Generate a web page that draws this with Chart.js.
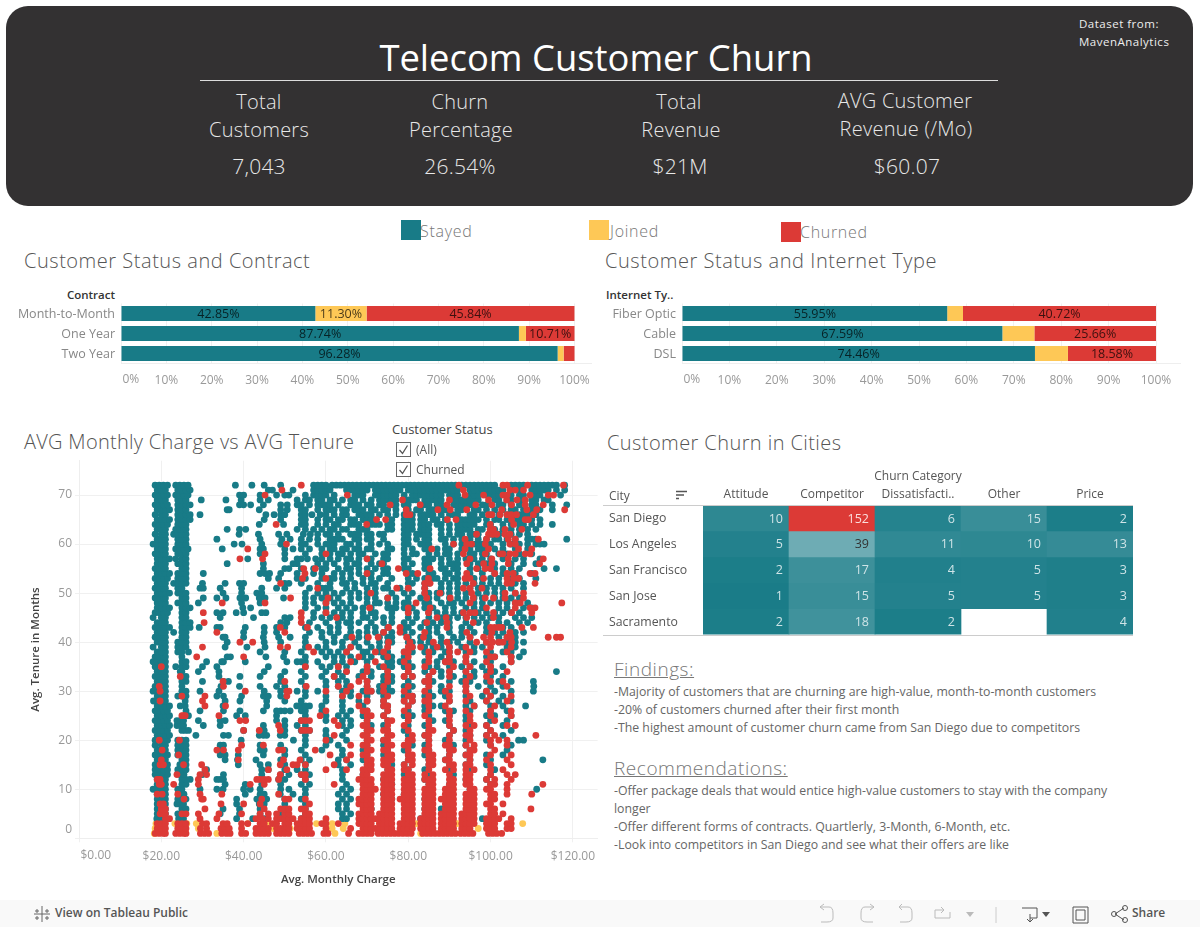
<!DOCTYPE html>
<html><head><meta charset="utf-8">
<script src="https://cdn.jsdelivr.net/npm/chart.js@4"></script>
<style>
html,body{margin:0;padding:0;background:#fff}
body{width:1200px;height:927px;position:relative;overflow:hidden;font-family:"Open Sans",sans-serif}
.t{position:absolute;white-space:pre;line-height:1}
canvas{position:absolute}
.box{position:absolute;width:13px;height:13px;border:1px solid #666;background:#fff}
.k{font-size:20px;color:#e8e8e8;font-weight:300;letter-spacing:.25px;text-align:center;width:200px}
.s{font-size:20px;color:#555;font-weight:300}
.p{font-size:12.3px;color:#666;left:614px}
.h{font-size:19px;color:#777;font-weight:300;text-decoration:underline;left:614px;letter-spacing:.55px}
.l{font-size:16px;color:#777;font-weight:300;letter-spacing:.7px}
</style></head><body>
<div style="position:absolute;left:6px;top:6px;width:1187px;height:200px;background:#333132;border-radius:22px"></div>
<div class="t" style="left:195px;width:802px;text-align:center;top:39px;font-size:36.4px;color:#fff">Telecom Customer Churn</div>
<div style="position:absolute;left:200px;top:80px;width:798px;height:1px;background:#ddd"></div>
<div class="t" style="left:1079px;top:18px;font-size:11.5px;color:#eee;letter-spacing:.5px">Dataset from:</div>
<div class="t" style="left:1079px;top:36px;font-size:11.5px;color:#eee;letter-spacing:.5px">MavenAnalytics</div>
<div class="t k" style="left:159px;top:92px">Total</div>
<div class="t k" style="left:159px;top:120px">Customers</div>
<div class="t k" style="left:159px;top:156px;font-size:21px">7,043</div>
<div class="t k" style="left:360px;top:92px">Churn</div>
<div class="t k" style="left:361px;top:120px">Percentage</div>
<div class="t k" style="left:360px;top:156px;font-size:21px">26.54%</div>
<div class="t k" style="left:579px;top:92px">Total</div>
<div class="t k" style="left:581px;top:120px">Revenue</div>
<div class="t k" style="left:580px;top:156px;font-size:21px">$21M</div>
<div class="t k" style="left:805px;top:91px">AVG Customer</div>
<div class="t k" style="left:806px;top:119px">Revenue (/Mo)</div>
<div class="t k" style="left:807px;top:156px;font-size:21px">$60.07</div>

<div style="position:absolute;left:401px;top:220px;width:20px;height:20px;background:#187b87"></div>
<div class="t l" style="left:420px;top:223px">Stayed</div>
<div style="position:absolute;left:589px;top:220px;width:20px;height:20px;background:#fec856"></div>
<div class="t l" style="left:610px;top:223px">Joined</div>
<div style="position:absolute;left:781px;top:222px;width:20px;height:20px;background:#dc3a36"></div>
<div class="t l" style="left:800px;top:224px">Churned</div>

<div class="t s" style="left:24px;top:251px;letter-spacing:.53px">Customer Status and Contract</div>
<div class="t s" style="left:605px;top:251px;letter-spacing:.55px">Customer Status and Internet Type</div>
<div class="t s" style="left:24px;top:432px;letter-spacing:.28px">AVG Monthly Charge vs AVG Tenure</div>
<div class="t s" style="left:607px;top:433px;letter-spacing:.42px">Customer Churn in Cities</div>
<div class="t" style="left:0;width:115px;text-align:right;top:289px;font-size:11.5px;color:#333;font-weight:600">Contract</div>
<div class="t" style="left:606px;top:289px;font-size:11.5px;color:#333;font-weight:600">Internet Ty..</div>

<canvas id="barContract" style="left:0;top:290px" width="600" height="105"></canvas>
<canvas id="barInternet" style="left:600px;top:290px" width="600" height="105"></canvas>
<canvas id="scatter" style="left:20px;top:450px" width="590" height="450"></canvas>
<canvas id="heat" style="left:600px;top:465px" width="540" height="180"></canvas>

<div class="t" style="left:392px;top:423px;font-size:13px;color:#444">Customer Status</div>
<div class="box" style="left:396px;top:442px"></div>
<svg style="position:absolute;left:396px;top:442px" width="15" height="15"><path d="M3.5 8 L6.5 11.5 L11.5 3.5" fill="none" stroke="#555" stroke-width="1.3"/></svg>
<div class="t" style="left:416px;top:444px;font-size:12px;color:#555">(All)</div>
<div class="box" style="left:396px;top:462px"></div>
<svg style="position:absolute;left:396px;top:462px" width="15" height="15"><path d="M3.5 8 L6.5 11.5 L11.5 3.5" fill="none" stroke="#555" stroke-width="1.3"/></svg>
<div class="t" style="left:416px;top:464px;font-size:12px;color:#555">Churned</div>

<div class="t" style="left:609px;top:490px;font-size:12px;color:#555">City</div>
<svg style="position:absolute;left:676px;top:490px" width="12" height="11"><path d="M0 1.5H11M0 5H8M0 8.5H3" stroke="#555" stroke-width="1.5"/></svg>

<div class="t h" style="top:660px">Findings:</div>
<div class="t p" style="top:686px">-Majority of customers that are churning are high-value, month-to-month customers</div>
<div class="t p" style="top:704px">-20% of customers churned after their first month</div>
<div class="t p" style="top:722px">-The highest amount of customer churn came from San Diego due to competitors</div>
<div class="t h" style="top:759px">Recommendations:</div>
<div class="t p" style="top:785px">-Offer package deals that would entice high-value customers to stay with the company</div>
<div class="t p" style="top:803px">longer</div>
<div class="t p" style="top:821px">-Offer different forms of contracts. Quartlerly, 3-Month, 6-Month, etc.</div>
<div class="t p" style="top:839px">-Look into competitors in San Diego and see what their offers are like</div>

<div style="position:absolute;left:0;top:900px;width:1200px;height:27px;background:#f9f9f9"></div>
<svg style="position:absolute;left:33px;top:905px" width="18" height="18" stroke="#666" fill="none"><path d="M9 1V17M1 9H17M4 4V8M2 6H6M14 4V8M12 6H16M4 11V15M2 13H6M14 11V15M12 13H16"/></svg>
<div class="t" style="left:55px;top:907px;font-size:12px;color:#555;font-weight:600">View on Tableau Public</div>
<svg style="position:absolute;left:815px;top:903px" width="360" height="22" stroke="#bbb" fill="none">
<path d="M5 4H14Q18 4 18 10V15Q18 19 12 19H6M5 4L9 1M5 4L9 7"/>
<path d="M59 4H50Q46 4 46 10V15Q46 19 52 19H58M59 4L55 1M59 4L55 7"/>
<path d="M84 4H93Q97 4 97 10V15Q97 19 91 19H85M84 4L87 1M84 4L87 7"/>
<path d="M129 7H120V15H135V9M129 7L126 4M129 7L126 10"/>
<path d="M181 4V20" stroke="#ccc"/>
<path d="M207 5H222V15H215M215 11V19L212 16M215 19L218 16" stroke="#555"/>
<path d="M258 4H273V20H258ZM261 7H270V17H261Z" stroke="#555"/>
<path d="M300 11L309 5M300 11L309 17" stroke="#555"/><circle cx="299" cy="11" r="2.5" stroke="#555"/><circle cx="310" cy="5" r="2.5" stroke="#555"/><circle cx="310" cy="17" r="2.5" stroke="#555"/>
<path d="M151 9H159L155 14Z" fill="#bbb" stroke="none"/>
<path d="M227 9H235L231 14Z" fill="#555" stroke="none"/>
</svg>
<div class="t" style="left:1132px;top:907px;font-size:12px;color:#555;font-weight:600">Share</div>

<script>
const TEAL='#187b87',YELLOW='#fec856',RED='#dc3a36';
const statusNames=['Stayed','Joined','Churned'];

const contractLabels=['Month-to-Month','One Year','Two Year'];
const contractStayed=[42.85,87.74,96.28];
const contractJoined=[11.30,1.55,1.32];
const contractChurned=[45.84,10.71,2.40];

const internetLabels=['Fiber Optic','Cable','DSL'];
const internetStayed=[55.95,67.59,74.46];
const internetJoined=[3.33,6.75,6.96];
const internetChurned=[40.72,25.66,18.58];

const churnCategories=['Attitude','Competitor','Dissatisfacti..','Other','Price'];
const cityNames=['San Diego','Los Angeles','San Francisco','San Jose','Sacramento'];
const sanDiego=[10,152,6,15,2];
const losAngeles=[5,39,11,10,13];
const sanFrancisco=[2,17,4,5,3];
const sanJose=[1,15,5,5,3];
const sacramento=[2,18,2,null,4];

const xTickValues=[0,20,40,60,80,100,120];
const yTickValues=[0,10,20,30,40,50,60,70];

/* monthly charge of each customer, by tenure in months */
const stayedByTenure={
72:[18.5,19.5,20.5,21.5,23.5,24.5,25.5,26.5,38,42,45,49,57,58,59,60,61.5,62.5,63.5,64.5,65.5,66.5,67.5,68.5,69.5,70.5,71.5,72.5,73.5,74.5,75.5,76.5,77.5,78.5,79.5,80.5,81.5,82.5,83.5,84.5,85.5,86.5,87.5,88.5,89.5,90.5,91.5,93,94,95,96,97,98,99,100,101,105,106,107,108,110,111,112,113,114,115,116,118],
71:[19,20,21,24,25,26,27,46,47,52,57,58,59,60,61,65,66,67,68,69,70,72,73,74,75,76,77,78,80,81,82,83,84,85,86,87,88,89,90,91,92,95,96,97,98,99,100,101,102,103,105,107,110,111,112,113,114,116,118],
70:[18.5,19.5,20.5,21.5,23.5,24.5,25.5,26.5,39,40,44,48,50,51,55,57,58,59,60,62,67,68,69,72,73,74,75,76,77,79,81,82,83,84,85,86,87,88,90,91,92,95,96,97,99,100,101,102,105,107,108,111,112,117],
69:[19,20,21,24,25,26,29.7,35.7,39.4,44,46,53,55,56,58,59,61,62,64,66,67,69,71,73,74,75,76,77,79,80,81,82,84,85,86,87,88,91,92,93,94,95,96,97,101,102,104,105,107,108,110,111,113,114],
68:[18.5,19.5,20.5,21.5,24,25,26,27,39,40,41.7,44.8,49,50.6,53,54,56,58,59,60,61,63,66,67,68,70,71,73,74,76,77,79,80,83,84,85,87,88,91,92,93,94,95,98,99,102,103,105,107,110,111,115,118.5],
67:[19,20,21,22,24,25,26,36,36.5,43.8,49,50.6,54,55,58,60,61,62,64,65,67,68,69,71,72,74,75,77,80,82,83,85,86,88,89,92,93,96,97,99,101,103,105,106,108,110,112,115],
66:[18.5,20,21,24,25,26,27,29.4,45.4,47.4,49,50,54,55,56.6,58.6,60,62,64,65,68,69,70,71,73,75,77,79,81,83,84,85,86,88,90,91,92,95,96,98,100,102,104,107,108,109,111],
65:[19,20,21,22,24,25,26,27,45,49,54,55,58,60,61,63,64,66,67,69,70,71,72,76,79,80,81,83,84,86,87,89,92,93,94,95,96,97,99,101,102,104,106,107,109,110,112],
64:[18.5,19.5,20.5,21.5,24,25,26,43.8,49.7,54,55,58,60,62,63,66,67,68,71,72,73,75,76,79,80,81,83,84,85,87,88,90,92,93,94,95,96,99,100,103,105,107,108,110,112,115],
63:[19,20,21,23.5,24.5,25.5,26,36,39,40.5,53,55,57,59,61,62,64,65,68,69,70,75,76,79,80,81,83,84,85,88,90,92,93,94,95,97,98,101,103,105,107,109,111],
62:[18.5,20,21,23,24,25,26,38.9,43.6,48.5,50.5,54.5,56.2,58,60,61,63,66,67,68,70,71,73,74,79,80,82,83,84,85,88,90,92,93,95,96,97,100,102,105,107,109],
61:[19,20,21,24,25,26,33.5,44,49.3,51.3,54,56,58,61,62,63,64,67,68,70,71,74,79,80,82,84,85,88,89,91,93,95,97,99,101,102,104,106,109,110,111,118.5],
60:[18,19,20,21,24,25,26,37.7,39.6,44.4,49,54,55,58,60,61,62,65,66,68,71,73,75,79,80,83,84,85,89,91,93,94,96,97,98,100,103,105,107,109,111,112,113],
59:[19,20,21,23.5,24.5,25.5,26.5,34.8,44,44.8,50,52,54,56,59,61,62,64,65,67,68,70,71,75,76,79,81,84,85,87,89,90,93,95,97,98,99,101,103,106,109],
58:[18.5,19.5,20.5,21,24,25,26,44,50,55,59,61,63,64,66,68,69,72,74,75,79,81,82,85,87,89,90,92,95,96,98,99,102,104,107,110],
57:[19,20,21,22,23.5,25,26,41,50,53,54,55.5,57.5,59,61,63,65,66,68,70,71,74,75,79,80,84,85,86,88,90,92,94,96,98,100,103,106,108,112],
56:[19,20,21,24,25,26,36,44.8,52,53,58,60,62,65,67,68,71,73,74,79,81,84,85,88,90,91,92,95,97,99,101,105,108,111],
55:[18.5,19.5,20.5,21,25,26,44.8,50,51,54,57,59,60,63,65,66,68,70,72,74,75,79,80,84,85,88,89,91,92,95,97,100,101,103,105,107,113,116],
54:[19,20,21,22,24,25,26,30.2,44,45.2,46.3,49,53,57,59,62,64,66,68,70,71,74,75,80,81,85,86,89,90,92,95,98,101,103,106,110],
53:[18.5,19.5,20.5,21.5,24,25,26,46,48.5,53,55,59,61,62,64,66,69,71,73,76,80,82,84,86,87,89,91,92,94,96,98,100,102,105,107,111],
52:[19,20,21,23,24,25,26,30,35.5,39,40,50,51,54,58,61,64,65,67,69,71,72,75,80,81,84,85,88,90,92,94,96,98,100,102,106,108],
51:[18.5,19.5,20.5,21,24,25,29.4,30.2,34.3,39.5,44.4,48,50,56,59,60,61,65,67,70,72,74,75,78,80,84,88,90,92,95,97,99,101,103,105,108],
50:[19,20,21,22,24,25,26,35,39.5,43.2,44.4,55,58,60,62,64,66,68,70,72,76,79,81,84,85,87,88,90,92,94,97,99,101,103,106],
49:[18.5,19.5,20.5,21,25,26,30.2,33.5,35.7,39.1,40.5,43.8,45.2,49.7,55,57,59,61,63,66,68,70,72,75,77,80,83,85,87,90,92,94,96,98,101,103,105,107],
48:[19,20,21,24,25,26,29,39.5,44,55,57,60,62,64,66,70,72,73,75,77,79,80,84,85,88,90,91,93,96,98,100,102,104,106,109],
47:[19,20,21,22,25,26,27,39.8,41.7,55,58,60,63,65,67,69,71,75,76,77,79,81,84,86,89,91,94,96,98,102,104,108,110],
46:[18.5,19.5,20.5,21.5,25,26,33.5,35,38.2,40,44.4,45.4,57,60,62,64,66,69,71,72,76,80,82,85,87,89,91,93,95,97,99,101,103,105,107],
45:[18,20,21,25,26,34.3,42.4,50,51.3,57,59,61,63,64,66,69,70,72,74,76,80,82,85,88,90,92,94,96,98,100,102,106,108,110],
44:[19,20,21,25,26,27,49,50.5,56,60,63,65,66,68,71,74,76,79,81,84,86,88,90,94,97,99,102,104,107,109],
43:[18.5,19.5,20.5,21,22,25,26,27,29.2,33.5,34.3,40.4,45,48,50,55,58,61,63,66,70,72,75,79,80,83,85,87,90,93,95,99,103,105],
42:[19,20,21,23,25,26,40,45,48,56,59,61,63,66,68,70,72,74,76,79,81,85,87,90,93,96,99,101,103,106,108],
41:[18.5,19.5,20.5,21,25,26,35,35.5,40,44.8,48.5,51.3,55,59,62,65,68,70,73,75,76,80,83,85,88,91,93,95,102,104,106],
40:[19,20,21,24,25,26,36,45,49,55,60,62,64,67,70,73,75,76,80,81,83,85,88,90,92,95,99,102,104,106,108],
39:[18,20,21,24,25,26,35.5,40.8,45.2,55,58,60,64,66,68,71,73,75,81,84,86,88,90,93,96,98,104,106],
38:[19,20,21,24,25,26.6,44,50,54,59,61,63,65,69,70,73,75,79,81,84,86,89,90,94,96,100,103,105,108],
37:[18.5,19.5,20.5,21,25,36,36.8,45.4,49.7,55,60,62,64,66,69,71,74,76,79,85,88,90,94,99,101,105,107],
36:[18,19,20,21,25,26,31,34.7,35.1,40.4,50.5,53,54,55,58,62,64,67,70,75,76,78,80,84,87,89,91,94,96,100,105],
35:[18.5,20,21,23.5,25,26,30,33.5,46,55,59,61,63,65,70,73,75,76,79,81,85,87,90,93,95,98,100,103],
34:[19,20,21,24.6,25,29,34,45,50,54,60,63,65,69,71,75,80,84,86,88,90,94,96,99,101,116],
33:[18.5,19.5,20.5,21,25,26,34,39.1,44,49,55,59,62,64,68,71,74,76,79,81,85,88,91,94,96,100,103],
32:[19,20,21,25,26,30,35.1,36.3,49,54,60,63,65,70,74,76,80,84,86,90,93,95,99,102,105,110.4],
31:[18.5,19.5,20.5,21,25,34.5,39,44,48,50,55,60,63,65,70,73,75,79,81,85,88,94,97,100,103,110.5],
30:[18,19,20,21,25,26,29.4,34,45,49,53,55,58,64,66,69,71,73,75,76,80,85,88,90,94,99,101,105,110.4],
29:[19,20,21,24,25,26,33.5,35.1,39.5,44.8,46,49,55,60,64,66,70,74,79,81,84,86,89,94,98,100,103],
28:[18.1,19.5,20.5,21,25.8,35.5,39.1,45.6,50,54,60,64,68,70,74,79,81,85,90,95,99,102,105],
27:[19,20,21,22,24.6,25.8,35,45.6,52.9,54,55,56,59,64,69,74,75,80,84,86,88,94,96,100,103,108.5],
26:[18.5,19.5,20.5,21.5,26,29.4,35.1,39.1,44.8,48,49,50,51.3,54,55,59,64,66,70,75,80,84,89,91,95,100,104],
25:[19,20,21,22,26.6,38.3,40.4,48,55,60,63,65,69,74,79,81,85,90,94,99,101,105],
24:[18.5,19.5,20.5,21.5,23.8,24.6,25.4,29,34.3,35.5,48,50,54,60,64,66,70,75,80,86,89,94,100,104],
23:[19,20,21,22,23.8,24.6,25.4,30.2,34.3,44.8,50,53,55,64,66,71,74,80,84,90,95,99,103],
22:[18.5,19.5,20.5,21.5,25,25.8,26.6,40,45,50,54,56,60,65,70,75,79,85,91,94,100,105],
21:[19,20,21,22,28.4,35.1,36.3,43.8,44.8,45.6,48.9,50,55,60,64,70,75,80,84,90,95,99,103],
20:[18.5,19.5,20.5,21.5,24,25,26,39.4,52.1,55,61,65,70,74,80,85,89,94,99,106.8,108],
19:[18.5,20,21,24,25,26,34.3,35.1,44,49,55,60,63,70,74,81,84,91,94,100,105],
18:[19,20,21,24,25,26,34,35,44,45,50,54,59,64,69,75,79,85,90,95,104],
17:[18.5,19.5,20.5,21.5,24,25,26,34.3,35.5,38.7,44.8,50,55,64,70,74,80,84,90,94,99,103],
16:[19,20,21,25,26,35.5,38.5,43,49,54,56,63,65,69,75,80,85,89,95,100,112.7],
15:[18.5,19.5,20.5,21.5,24.5,26,38.7,44,46,50,55,63,66,70,76,79,85,90,94,99],
14:[18.5,19.5,20.5,21.5,24,25,26,31,44.4,46,50,53,55,64,70,75,80,84,90,95,101],
13:[18.5,19.5,20.5,21.5,24.5,25.5,30,35.1,44.4,49,51,54,56,64,69,75,79,85,91,100],
12:[19,20,21,25,26,27,33.5,34.3,35.1,48.5,50,55,64,70,74,80,84,94,99],
11:[19,20,21,25,26,35.5,40.4,44.4,49,54,56,65,70,76,85,90,100],
10:[18,19,20,21,24,25,29.4,33.5,35,40,41.6,44,49,51,55,64,66,70,75,80,85,95,111.2],
9:[19,20,21,24.5,25.5,40.4,44,45,48.9,52,55,63,65,70,74,79,90],
8:[19,20,21,24,25,26,38.3,43.2,44.4,45.6,50,54,64,66,70,76,84,95],
7:[19,20,21,23.8,24.6,25.4,38.3,43.8,45,50,55,63,65,69,80,90],
6:[19,20,21,25,26,35,39,44,50,55,63,65,71,84,88],
5:[19,20,21,24,25,34.3,39,44,49,55,64,66,75,85],
4:[18.9,20,24.2,25.4,38.3,42.2,45,49,54,64,65,83,98]
};
const churnedByTenure={
72:[54,92.3,103,104,109,117.7],
71:[49.3,93.4,104.7,106,108],
70:[45.2,65.2,93.8,98.3,103,104,109.6,114,115.3],
69:[78.6,90,99.5,103.9,106.4,108.4],
68:[75.6,82.9,89.4,96.4,100.3,105.1,108.4,112.8],
67:[79.5,87.2,90.2,94.2,102.7,108.8,111.2,118],
66:[79.5,80.4,99.5,100.3,102.3,104,105,106.3,110.4],
65:[72.3,74.5,89.5,91.6,105.1,108.4,109.2],
64:[47.9,69.9,99.9,105.6],
63:[99.9,100.7,103.5,107.6],
62:[96.6,99.5,100.5,101.5,103.5,104.7],
61:[93.8,99,104.3,106,111.6],
60:[50.4,91,94.2,95.4,98.7,104.7,106],
59:[41,85.7,93.8,99.5,106.8,110],
58:[45.2,60,93.4,98.7,102.3,103,104.7,106,108.4,109.6],
57:[39.1,44.6,70,95,100.3,104.3,112.8],
56:[73.6,94.2,98.3,100.3,104.3,111.9],
55:[54.6,57.4,77.6,85.3,96.6,98.7,100],
54:[54.9,70,79.5,82.3,94.2,101,104,105.5,109.6,110.8],
53:[54.3,60,84.9,93.8,95,98.3,104,105.6,106.8],
52:[49,84,85.3,95.8,104,105.1,110.8],
51:[58,77.2,80,84,93.4,95,97.9],
50:[70.9,84,87.7,95.4,103.5,106,108],
49:[51.4,60.5,75,84.5,90.2,95.8,98.7,100.7,103.5,108],
48:[34.8,45.2,60,81.9,95,106,107.2,117.3],
47:[70.6,80,85.3,99,106,109.6,110.8],
46:[30.2,54,60,80,84.9,93.4,95,96.2,100.7,105.1,110],
45:[54,62.6,87,89.2,94.2,100.7],
44:[30.4,54,84.5,89.4,95.8],
43:[48.9,55.5,75.2,78,89.4,100,101,102,102.7,107.6,110.4],
42:[33.5,50,74,78,84,94.2,100.3,104.7],
41:[66.3,70.3,72.7,79.6,83.7,95,98.3,100,104,105,114,116,117],
40:[39.1,42.2,75.2,80.4,86.1,89.4,96.6,99,100.5,102,103,105.1],
39:[30,48.9,50.7,55.8,66,75,80,81,83,87,90,94,100,105],
38:[57,65,72,74,79,80,85,90,92,95,99,104],
37:[28.6,40,68,75,80,85,90,94,100,101,105],
36:[66,72,79,85,89,90,94,99,105],
35:[20,55,63,70,74,80,84,91,95,100],
34:[65,70,75,80,86,90,94,100,104],
33:[24.6,62,69,75,79,81,85,90,95,99],
32:[35,50,68,70,75,84,85,94,100,103],
31:[19.5,35.1,55.2,63,66,70,74,80,85,90,94,104],
30:[19.7,40.4,50.5,51,60,65,70,71,74,79,84,89,94,99],
29:[25,30.6,50.5,64,68,75,80,81,85,90,95,100,105],
28:[19.7,30,70,74,79,81,84,85,90,94,99,104],
27:[35.6,30.6,68,74,75,80,85,89,96,101],
26:[60,69,70,75,79,85,90,94,100,105],
25:[25,25.4,25.8,34,58.6,70,71,74,80,84,90,95,100,105],
24:[39.1,40.5,54,55,56,62,70,75,76,80,85,90,95,101],
23:[48.5,63,69,70,75,79,85,90,94,96,99,104,106],
22:[40,43.8,48.9,54.1,55,56,70,71,74,75,80,85,86,91,95,100],
21:[62,69,70,75,76,81,84,85,90,94,95,99,101,111],
20:[19.5,24.4,60,70,71,74,75,80,81,85,90,95,100,102,104],
19:[39.5,44.8,66,69,70,75,76,79,80,85,89,90,94,96,100,104],
18:[20.2,33.5,35.1,38.7,48.5,49.5,57.4,70,71,74,75,80,84,85,90,91,95,96,101],
17:[24.2,61,66,69,70,75,76,80,81,85,86,90,94,95,100,105],
16:[20,38.7,49.7,53.7,65,70,71,74,75,76,80,81,85,86,89,90,95,99,104],
15:[19.7,20.5,25.4,29.8,48.9,52,53,55,62,70,71,74,75,79,81,85,86,90,91,94,95,100,105],
14:[30.6,46,50.5,60,65,69,70,71,75,76,79,80,85,89,91,94,96,100,103],
13:[23.8,29.4,31,48.9,54,55,69,70,74,75,76,80,81,84,86,90,94,95,100,104,106],
12:[19,19.7,29,43.2,44,45,46,48.5,55,68,69,70,71,74,75,76,79,80,81,84,85,86,90,91,94,95,99,101,105],
11:[19.5,20,23,29,41.6,45,62,69,70,71,74,75,76,79,80,81,85,86,90,91,94,95,100,101,104,112.7],
10:[69,70,71,72,74,75,76,79,80,81,84,85,86,89,90,91,95,96,99,100,104],
9:[19,20.2,24,29.4,34.7,48.5,69,70,71,74,75,76,79,80,81,84,85,86,89,90,91,94,95,96,100,101,104,110],
8:[25.5,29.8,30.2,44.4,50,51,55,68,69,70,71,74,75,76,78,79,80,81,84,85,86,88,89,90,91,94,95,96,100,101],
7:[19.7,20.5,34.5,40,44,56,68,69,70,71,74,75,76,79,80,81,84,85,86,89,90,91,94,95,96,99,100,103],
6:[20,21,30.6,45,49,50,51,54,55,69,70,71,74,75,76,79,80,81,84,85,86,89,90,91,94,95,96,100,101,109.8],
5:[19.7,20.5,21,25,26,29,34,39.5,44,46,48,50,51,55,56,68,69,70,71,73,74,75,76,79,80,81,84,85,86,88,89,90,91,93,94,95,96,100,101,103],
4:[21,22,29.4,33.5,43,44.5,46,48,49,50,51,52,54,55,56,60,68,69,70,71,72,73,74,75,76,79,80,81,83,84,85,86,88,89,90,91,93,94,95,96,99,100,101,102,105],
3:[19,20,21,24,25,26,30,31,35,36,39.5,41,44,45,47,48,50,51,53,54,55,56,59,60,63,68,69,70,71,73,74,75,76,78,79,80,81,83,84,85,86,88,89,90,91,93,94,95,96,99,100,101,104,105],
2:[19,20,21,24,25,26,29.5,31,34.5,35.5,36.5,39.5,43,44,45,46,48,49,50,51,53,54,55,56,60,66,69,70,71,72,73,74,75,76,78,79,80,81,83,84,85,86,88,89,90,91,93,94,95,99,100,101,104,105],
1:[18.5,19.5,20.5,21,23.5,24.5,25.5,26,29.5,30.5,31.5,34.7,35.8,36.7,39.5,40.5,43,44,45,46,48,49,50,51,53.5,54.5,55.5,56.5,59.5,60.5,65.5,68,69,70,71,72.7,73.7,74.7,75.7,76.7,77.7,78.7,79.7,80.7,83.5,84.5,85.5,86.5,87.5,88.5,89.5,90.5,91.5,92.7,93.7,94.7,95.7,99.5,100.5,101.5,102.7]
};
const joinedByTenure={
3:[18.7,23.3,26.2,28.5,41,46,57.7,59.5,61.5,64.6,70,74,73,82,91.5,92,107.8],
2:[18.5,29,47.2,51.3,60.2,61.5,64.2,83.7,90.5,97,100.3],
1:[18.3,33.5,62.2,83]
};

const pts=o=>Object.entries(o).flatMap(([t,xs])=>xs.map(x=>({x,y:+t})));
const GRID='#f0f0f0';
Chart.defaults.font.family='"Open Sans",sans-serif';
Chart.defaults.animation=false;
Chart.defaults.plugins.legend.display=false;
Chart.defaults.plugins.tooltip.enabled=false;
Chart.defaults.responsive=false;

const barLabels={id:'barLabels',afterDatasetsDraw(c){
  const x=c.ctx;x.save();x.font='12.5px "Open Sans"';x.fillStyle='rgba(0,0,0,.72)';x.textAlign='center';x.textBaseline='middle';
  c.data.datasets.forEach((d,i)=>c.getDatasetMeta(i).data.forEach((b,j)=>{
    if(d.data[j]>=10){x.fillText(d.data[j].toFixed(2)+'%',(b.x+b.base)/2,b.y+1);}
  }));x.restore();}};
const zeroLabel={id:'zeroLabel',afterDraw(c){
  const s=c.scales.x,x=c.ctx;x.save();x.font='12px "Open Sans"';x.fillStyle='#999';x.textAlign='left';x.textBaseline='middle';
  x.fillText(c.options.plugins.zeroLabel.text,s.getPixelForValue(0)+1.5,c.options.plugins.zeroLabel.y);
  if(c.options.plugins.zeroLabel.yText){x.textAlign='right';x.fillText(c.options.plugins.zeroLabel.yText,c.chartArea.left-7,c.options.plugins.zeroLabel.yY);}
  x.restore();}};

function makeBar(id,labels,a,b,cc,yw,rp,xmax){
  new Chart(document.getElementById(id),{type:'bar',plugins:[barLabels,zeroLabel],
   data:{labels,datasets:[
    {label:statusNames[0],data:a,backgroundColor:TEAL},
    {label:statusNames[1],data:b,backgroundColor:YELLOW},
    {label:statusNames[2],data:cc,backgroundColor:RED}]},
   options:{indexAxis:'y',layout:{padding:{top:13.5,right:rp,left:0,bottom:0}},
    datasets:{bar:{barPercentage:.75,categoryPercentage:1}},
    plugins:{zeroLabel:{text:'0%',y:89.5}},
    scales:{
     x:{stacked:true,min:0,max:xmax,afterFit:s=>{s.height=31.5},grid:{color:GRID,drawTicks:false},border:{color:'#eee'},
        ticks:{stepSize:10,includeBounds:false,padding:10,maxRotation:0,autoSkip:false,color:'#999',font:{size:12},callback:v=>v===0?'':v+'%'}},
     y:{stacked:true,afterFit:s=>{s.width=yw},grid:{display:false,drawTicks:false,tickLength:0},border:{display:false},
        ticks:{padding:6,labelOffset:.5,color:'#888',font:{size:12.5}}}
    }}});
}
makeBar('barContract',contractLabels,contractStayed,contractJoined,contractChurned,121,7,103.7);
makeBar('barInternet',internetLabels,internetStayed,internetJoined,internetChurned,82,20,105.06);

new Chart(document.getElementById('scatter'),{type:'scatter',plugins:[zeroLabel],
 data:{datasets:[
  {label:statusNames[2],order:0,data:pts(churnedByTenure),backgroundColor:RED},
  {label:statusNames[0],order:1,data:pts(stayedByTenure),backgroundColor:TEAL},
  {label:statusNames[1],order:2,data:pts(joinedByTenure),backgroundColor:YELLOW}]},
 options:{layout:{padding:{top:10.7,right:12.4,left:0,bottom:0}},
  elements:{point:{radius:3.4,borderWidth:0}},
  plugins:{zeroLabel:{text:'$0.00',y:405.5,yText:'0',yY:380}},
  scales:{
   x:{type:'linear',min:0,max:126,afterFit:s=>{s.height=61.7},grid:{color:GRID,tickLength:4},border:{color:'#eee'},
      afterBuildTicks:s=>{s.ticks=xTickValues.map(value=>({value}))},
      ticks:{padding:7,maxRotation:0,autoSkip:false,color:'#999',font:{size:12},callback:v=>v===0?'':'$'+v.toFixed(2)},
      title:{display:true,text:'Avg. Monthly Charge',color:'#444',font:{size:11.5,weight:'600'},padding:{bottom:13,top:0}}},
   y:{type:'linear',min:0,max:77,afterFit:s=>{s.width=59},grid:{color:GRID,tickLength:4},border:{color:'#eee'},
      afterBuildTicks:s=>{s.ticks=yTickValues.map(value=>({value}))},
      ticks:{padding:3,color:'#999',font:{size:12},callback:v=>v===0?'':v},
      title:{display:true,text:'Avg. Tenure in Months',color:'#444',font:{size:11.5,weight:'600'},padding:{top:9,bottom:0}}}
  }}});

const heatRows=[sanDiego,losAngeles,sanFrancisco,sanJose,sacramento];
function heatColor(v){
  if(v==null)return '#fff';
  if(v>100)return RED;
  const f=Math.min(v/105,1);
  const m=(a,b)=>Math.round(a+(b-a)*f);
  return `rgb(${m(24,255)},${m(123,255)},${m(135,255)})`;
}
const heatText={id:'heatText',afterDraw(c){
  const x=c.ctx;x.save();x.font='12.5px "Open Sans"';x.textAlign='right';x.textBaseline='middle';
  c.data.datasets.forEach((d,i)=>c.getDatasetMeta(i).data.forEach((b,j)=>{
    const v=d.data[j].v;if(v==null)return;
    x.fillStyle=v==39?'#333':v>100?'#fbdedd':'#cfe4e7';
    x.fillText(v,b.x+b.width/2-6,b.y+(b.base-b.y)/2+1);
  }));
  x.strokeStyle='#ccc';x.lineWidth=1;x.beginPath();
  x.moveTo(3,40.5);x.lineTo(533,40.5);x.moveTo(3,170.5);x.lineTo(533,170.5);x.stroke();
  x.restore();}};
new Chart(document.getElementById('heat'),{type:'bar',plugins:[heatText],
 data:{labels:churnCategories,datasets:cityNames.map((n,i)=>({label:n,
   data:churnCategories.map((cat,j)=>({x:cat,y:heatRows[i][j]==null?null:1,v:heatRows[i][j]})),
   backgroundColor:heatRows[i].map(heatColor),barPercentage:1,categoryPercentage:1}))},
 options:{layout:{padding:{left:9,right:7,top:0,bottom:10}},
  scales:{
   x:{stacked:true,position:'top',afterFit:s=>{s.height=40},grid:{display:false,drawTicks:false,tickLength:0},border:{display:false},
      ticks:{padding:3,color:'#555',autoSkip:false,maxRotation:0,font:{size:12}},
      title:{display:true,text:'Churn Category',color:'#555',font:{size:12},padding:{top:4,bottom:0}}},
   y:{stacked:true,reverse:true,min:0,max:5,afterFit:s=>{s.width=94},grid:{display:false},border:{display:false},
      afterBuildTicks:s=>{s.ticks=cityNames.map((_,i)=>({value:i+.5}))},
      ticks:{crossAlign:'far',labelOffset:1,autoSkip:false,color:'#555',font:{size:12.3},callback:(v,i)=>cityNames[i]}}
  }}});
</script>
</body></html>
